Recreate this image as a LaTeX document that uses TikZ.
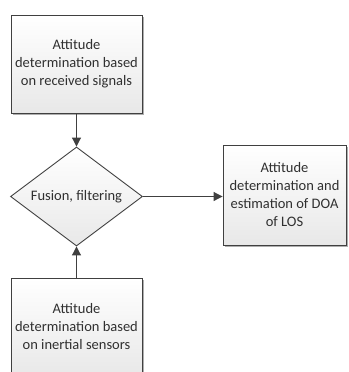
\documentclass[tikz,border=0pt]{standalone}
\usepackage{fontspec}
\setmainfont{Carlito}
\usetikzlibrary{shapes.geometric,shadows,arrows.meta}
\definecolor{edge}{HTML}{404040}
\definecolor{ink}{HTML}{303030}
\tikzset{
  flowbox/.style={draw=edge, line width=0.9pt, top color=white, bottom color=black!9,
    minimum width=131pt, minimum height=98pt, align=center, text=ink,
    font=\fontsize{14.5}{18}\selectfont,
    drop shadow={shadow xshift=2pt, shadow yshift=-2pt, fill=black!45, opacity=0.7}},
  decision/.style={diamond, draw=edge, line width=0.9pt, top color=white, bottom color=black!9,
    minimum width=132pt, minimum height=99pt, aspect=1.33, inner sep=0pt, text=ink,
    font=\fontsize{14.5}{18}\selectfont},
  flow/.style={draw=edge, line width=1pt, -{Triangle[length=9pt,width=9pt]}}
}
\begin{document}
\begin{tikzpicture}[x=1pt,y=-1pt]
  \useasboundingbox (0,0) rectangle (348,372);
  \begin{scope}
    \clip (0,0) rectangle (348,372);
    \node[flowbox] (sig) at (76.5,64) {Attitude\\determination based\\on received signals};
    \node[decision] (fuse) at (76.5,196.5) {Fusion, filtering};
    \node[flowbox] (ins) at (76.5,327) {Attitude\\determination based\\on inertial sensors};
    \node[flowbox, minimum width=123pt, minimum height=100pt] (out) at (284.5,195) {Attitude\\determination and\\estimation of DOA\\of LOS};
    \draw[flow] (sig.south) -- (fuse.north);
    \draw[flow] (ins.north) -- (fuse.south);
    \draw[flow] (fuse.east) -- (out.west |- fuse.east);
  \end{scope}
\end{tikzpicture}
\end{document}
